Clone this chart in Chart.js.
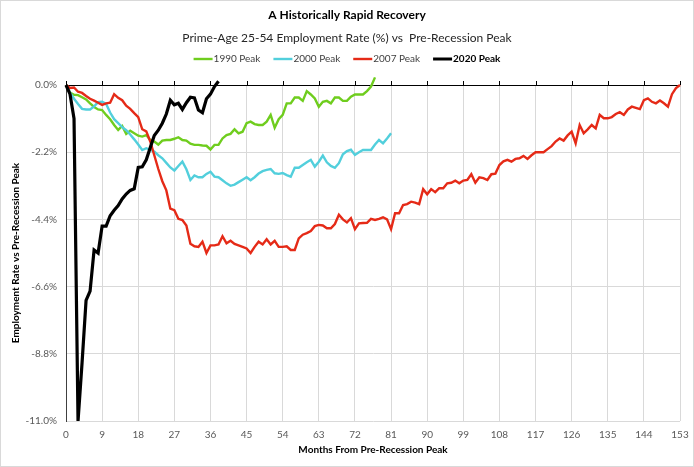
<!DOCTYPE html>
<html>
<head>
<meta charset="utf-8">
<script src="https://cdn.jsdelivr.net/npm/chart.js@4.4.1/dist/chart.umd.min.js"></script>
<style>
  body { margin: 0; background: #fff; }
  #wrap { width: 694px; height: 467px; position: relative; }
</style>
</head>
<body>
<div id="wrap"><canvas id="recoveryChart"></canvas></div>
<script>
const chartTitle = 'A Historically Rapid Recovery'
const chartSubtitle = 'Prime-Age 25-54 Employment Rate (%) vs  Pre-Recession Peak'
const xTitle = 'Months From Pre-Recession Peak'
const yTitle = 'Employment Rate vs Pre-Recession Peak'

const seriesNames = ['1990 Peak', '2000 Peak', '2007 Peak', '2020 Peak']
const seriesColors = ['#6fcd1e', '#52cfdc', '#e52a17', '#000000']

// percentage points below the pre-recession peak, one value per month
const peak1990 = [0, -0.25, -0.32, -0.33, -0.40, -0.47, -0.60, -0.72, -0.80, -0.82,
  -0.98, -1.12, -1.31, -1.47, -1.34, -1.60, -1.50, -1.58, -1.66, -1.69,
  -1.64, -1.80, -1.85, -1.95, -1.82, -1.80, -1.80, -1.76, -1.71, -1.80,
  -1.82, -1.92, -1.96, -1.96, -1.98, -1.99, -2.11, -1.96, -1.96, -1.75,
  -1.64, -1.60, -1.45, -1.58, -1.53, -1.25, -1.20, -1.28, -1.31, -1.31,
  -1.20, -0.98, -1.40, -1.12, -0.98, -0.60, -0.60, -0.41, -0.41, -0.52,
  -0.20, -0.31, -0.44, -0.71, -0.55, -0.52, -0.60, -0.41, -0.41, -0.52,
  -0.52, -0.38, -0.31, -0.31, -0.31, -0.20, -0.05, 0.25]

const peak2000 = [0, -0.25, -0.45, -0.62, -0.78, -0.80, -0.80, -0.70, -0.56, -0.55,
  -0.62, -0.90, -1.12, -1.25, -1.38, -1.48, -1.62, -1.78, -1.95, -2.13,
  -2.07, -2.12, -2.18, -2.30, -2.40, -2.55, -2.70, -2.80, -2.65, -2.51,
  -2.76, -3.11, -2.96, -3.02, -3.02, -2.91, -2.84, -3.00, -3.02, -3.12,
  -3.22, -3.30, -3.26, -3.18, -3.10, -3.02, -3.12, -3.02, -2.90, -2.82,
  -2.78, -2.75, -2.89, -2.91, -2.88, -2.95, -3.00, -2.71, -2.71, -2.62,
  -2.53, -2.45, -2.67, -2.51, -2.31, -2.53, -2.65, -2.71, -2.56, -2.27,
  -2.16, -2.12, -2.29, -2.20, -2.13, -2.13, -2.13, -1.95, -1.80, -1.91,
  -1.75, -1.58]

const peak2007 = [0, -0.10, -0.08, -0.22, -0.26, -0.36, -0.45, -0.51, -0.58, -0.65,
  -0.60, -0.58, -0.30, -0.42, -0.50, -0.68, -0.78, -0.92, -1.05, -1.45,
  -1.52, -1.85, -2.30, -2.75, -3.15, -3.45, -4.05, -4.10, -4.38, -4.42,
  -4.60, -5.20, -5.28, -5.30, -5.13, -5.50, -5.25, -5.25, -5.22, -4.95,
  -5.18, -5.10, -5.20, -5.25, -5.30, -5.35, -5.50, -5.30, -5.13, -5.22,
  -5.05, -5.22, -5.10, -5.30, -5.30, -5.28, -5.40, -5.40, -5.02, -4.90,
  -4.85, -4.78, -4.62, -4.58, -4.60, -4.69, -4.69, -4.55, -4.25, -4.40,
  -4.50, -4.36, -4.72, -4.53, -4.52, -4.51, -4.38, -4.42, -4.38, -4.33,
  -4.40, -4.72, -4.20, -4.20, -3.93, -3.90, -3.82, -3.85, -3.90, -3.41,
  -3.58, -3.41, -3.51, -3.38, -3.38, -3.22, -3.20, -3.13, -3.22, -3.13,
  -3.11, -2.92, -3.20, -3.02, -3.05, -3.11, -2.92, -2.90, -2.62, -2.50,
  -2.45, -2.51, -2.42, -2.40, -2.32, -2.42, -2.30, -2.20, -2.20, -2.20,
  -2.10, -2.00, -1.85, -1.75, -1.82, -1.65, -1.53, -1.91, -1.31, -1.58,
  -1.45, -1.31, -1.42, -0.98, -1.09, -1.09, -1.05, -0.95, -0.89, -0.98,
  -0.80, -0.71, -0.75, -0.79, -0.50, -0.44, -0.55, -0.60, -0.51, -0.60,
  -0.71, -0.30, -0.10, 0.00]

const peak2020 = [0, -0.30, -1.10, -11.0, -9.10, -7.05, -6.75, -5.40, -5.50, -4.62,
  -4.62, -4.28, -4.10, -3.95, -3.73, -3.57, -3.45, -3.40, -2.70, -2.68,
  -2.45, -2.05, -1.65, -1.48, -1.25, -0.95, -0.50, -0.65, -0.60, -0.80,
  -0.58, -0.40, -0.42, -0.82, -0.91, -0.45, -0.30, -0.05, 0.12]

const allSeries = [peak1990, peak2000, peak2007, peak2020]

// axis ticks
const monthStep = 9
const monthMax = 153
const pctStep = 2.2
const pctMin = -11.0
const pctMax = 0

const fontName = 'Lato'

let makeDataset = (vals, idx) => ({
  label: seriesNames[idx],
  data: vals.map((v, m) => ({ x: m, y: v })),
  borderColor: seriesColors[idx],
  backgroundColor: seriesColors[idx],
  borderWidth: idx === 3 ? 3.2 : 2.4,
  pointRadius: 0,
  tension: 0,
  clip: false,
  order: 3 - idx
})

// titles, legend, outer frame and the small tick marks on the zero axis
const decorPlugin = {
  id: 'decor',
  afterDraw(chart) {
    const ctx = chart.ctx
    const mid = chart.width / 2
    ctx.save()
    ctx.textBaseline = 'middle'
    ctx.textAlign = 'center'
    ctx.fillStyle = '#000'
    ctx.font = 'bold 12px ' + fontName
    ctx.fillText(chartTitle, mid, 15)
    ctx.fillStyle = '#262626'
    ctx.font = '12px ' + fontName
    ctx.fillText(chartSubtitle, mid, 38)

    // legend
    const lf = '10px ' + fontName
    const swatch = 19
    const gap = 13
    let widths = seriesNames.map((n, i) => {
      ctx.font = (i === 3 ? 'bold ' : '') + lf
      return swatch + 1 + ctx.measureText(n).width
    })
    let total = widths.reduce((a, b) => a + b, 0) + gap * (widths.length - 1)
    let x = mid - total / 2
    const ly = 59
    ctx.textAlign = 'left'
    seriesNames.forEach((n, i) => {
      ctx.strokeStyle = seriesColors[i]
      ctx.lineWidth = i === 3 ? 3 : 2.4
      ctx.beginPath()
      ctx.moveTo(x, ly)
      ctx.lineTo(x + swatch, ly)
      ctx.stroke()
      ctx.font = (i === 3 ? 'bold ' : '') + lf
      ctx.fillStyle = i === 3 ? '#000' : '#404040'
      ctx.fillText(n, x + swatch + 1, ly)
      x += widths[i] + gap
    })

    // tick marks sitting on the zero line
    const xs = chart.scales.x
    const top = chart.chartArea.top
    ctx.strokeStyle = '#000'
    ctx.lineWidth = 1
    xs.ticks.forEach(t => {
      const px = Math.round(xs.getPixelForValue(t.value)) + 0.5
      ctx.beginPath()
      ctx.moveTo(px, top)
      ctx.lineTo(px, top - 4)
      ctx.stroke()
    })

    ctx.strokeStyle = '#d9d9d9'
    ctx.strokeRect(0.5, 0.5, chart.width - 1, chart.height - 1)
    ctx.restore()
  }
}

const ctx = document.getElementById('recoveryChart').getContext('2d')
const recoveryChart = new Chart(ctx, {
  type: 'line',
  data: {
    datasets: allSeries.map(makeDataset)
  },
  options: {
    responsive: true,
    maintainAspectRatio: false,
    animation: false,
    layout: { padding: { top: 85, right: 14, bottom: 0, left: 0 } },
    plugins: {
      legend: { display: false },
      tooltip: { enabled: false }
    },
    scales: {
      x: {
        type: 'linear',
        min: 0,
        max: monthMax,
        afterFit: s => { s.height = 46; s.paddingRight = 0; s.paddingLeft = 0 },
        ticks: {
          stepSize: monthStep,
          padding: 8,
          maxRotation: 0,
          color: '#595959',
          font: { family: fontName, size: 10 }
        },
        grid: { color: '#d9d9d9', drawTicks: false },
        border: { display: false },
        title: {
          display: true,
          text: xTitle,
          color: '#000',
          font: { family: fontName, size: 10, weight: 'bold' },
          padding: { top: 0, bottom: 11 }
        }
      },
      y: {
        min: pctMin,
        max: pctMax,
        afterFit: s => { s.width = 66 },
        ticks: {
          stepSize: pctStep,
          padding: 9,
          color: '#595959',
          font: { family: fontName, size: 10 },
          callback: v => v.toFixed(1) + '%'
        },
        grid: {
          drawTicks: false,
          color: c => (c.tick && Math.abs(c.tick.value) < 1e-9) ? '#000' : '#d9d9d9'
        },
        border: { color: '#404040' },
        title: {
          display: true,
          text: yTitle,
          color: '#000',
          font: { family: fontName, size: 10, weight: 'bold' },
          padding: { top: 10, bottom: 0 }
        }
      }
    }
  },
  plugins: [decorPlugin]
})
</script>
</body>
</html>
